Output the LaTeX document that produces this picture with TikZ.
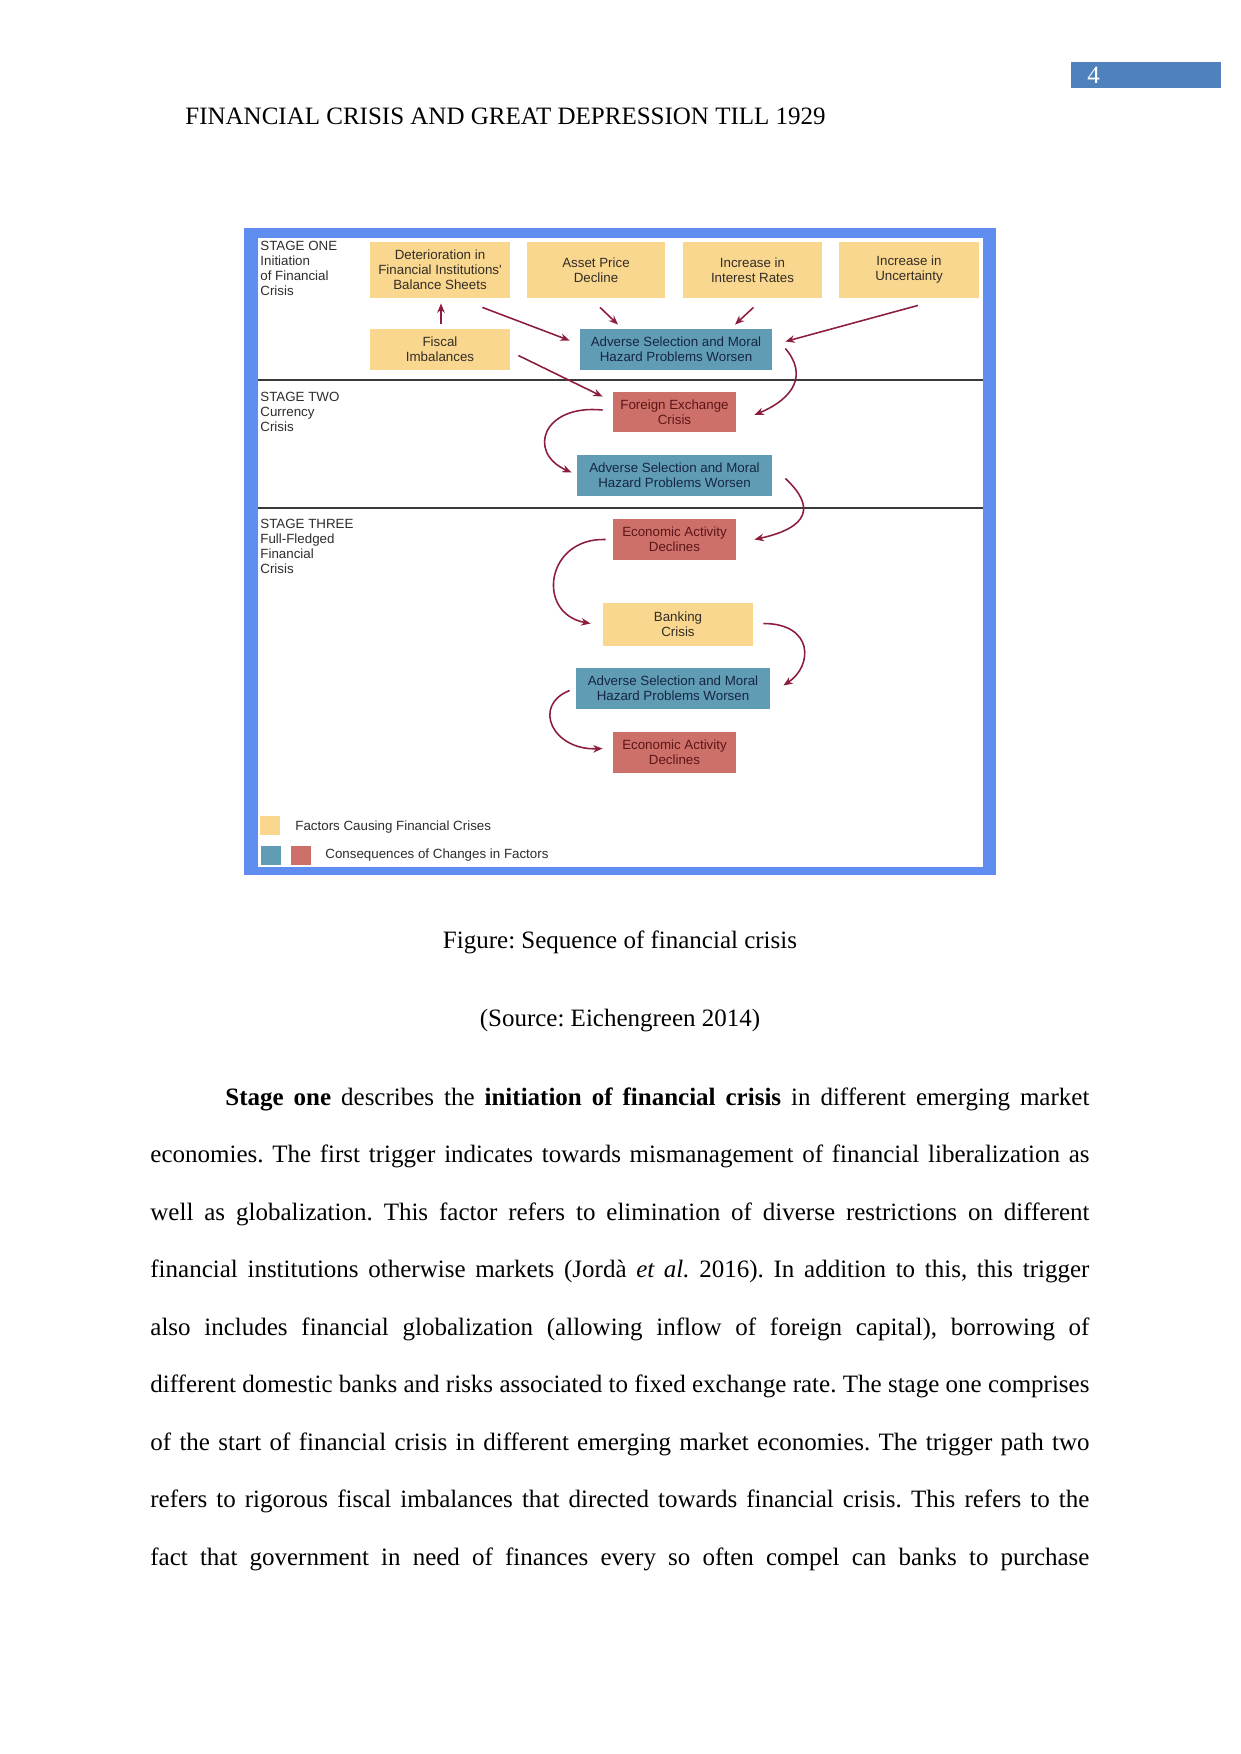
\documentclass[tikz,border=0pt]{standalone}
\usepackage{fontspec}
\setmainfont{Liberation Serif}
\newfontfamily\diagfont{Liberation Sans}
\usetikzlibrary{calc,arrows.meta}
\frenchspacing
\definecolor{frameblue}{RGB}{95,142,240}
\definecolor{pnblue}{RGB}{79,129,189}
\definecolor{boxyellow}{RGB}{250,215,142}
\definecolor{boxblue}{RGB}{96,157,181}
\definecolor{boxred}{RGB}{206,112,106}
\definecolor{ytext}{RGB}{50,45,40}
\definecolor{btext}{RGB}{22,38,66}
\definecolor{rtext}{RGB}{92,22,22}
\definecolor{arrowred}{RGB}{140,30,60}
\definecolor{sepgray}{RGB}{58,58,58}
\definecolor{lbltext}{RGB}{45,45,45}
\begin{document}
\frenchspacing
\begin{tikzpicture}[x=0.48pt,y=-0.48pt,
  box/.style={rectangle, inner sep=0pt, align=center,
    font=\diagfont\fontsize{6.4}{7.2}\selectfont},
  sz/.style 2 args={minimum width=#1*0.48pt, minimum height=#2*0.48pt},
  ybox/.style={box, fill=boxyellow, text=ytext},
  bbox/.style={box, fill=boxblue, text=btext},
  rbox/.style={box, fill=boxred, text=rtext},
  stagelbl/.style={inner sep=0pt, align=left, anchor=north west, text=lbltext,
    font=\diagfont\fontsize{6.4}{7.2}\selectfont},
  legsq/.style={rectangle, inner sep=0pt, minimum width=20*0.48pt, minimum height=19*0.48pt},
  legtext/.style={inner sep=0pt, anchor=base west, text=lbltext,
    font=\diagfont\fontsize{6.4}{7.2}\selectfont},
  arr/.style={draw=arrowred, line width=0.75pt, -{Stealth[length=4.5pt,width=3.6pt]}},
  sepline/.style={draw=sepgray, line width=1.2pt},
  pagetext/.style={inner sep=0pt, font=\fontsize{12}{14}\selectfont\frenchspacing},
  bodyline/.style={pagetext, anchor=base west}
]
\fill[white] (0,0) rectangle (1241,1754);
\useasboundingbox (0,0) rectangle (1241,1754);

% header
\node[pagetext, fill=pnblue, sz={150}{26}] (pnbox) at (1146,75) {};
\node[pagetext, anchor=base west, text=white] (pn) at (1087,83) {4};
\node[pagetext, anchor=base west] (hdr) at (185,124) {FINANCIAL CRISIS AND GREAT DEPRESSION TILL 1929};

% diagram frame
\fill[frameblue] (244,228) rectangle (996,875);
\fill[white] (258,238) rectangle (983,867);
\draw[sepline] (258,380) -- (983,380);
\draw[sepline] (258,508) -- (983,508);

% stage labels
\node[stagelbl] (s1) at (260,240.5) {STAGE ONE\\Initiation\\of Financial\\Crisis};
\node[stagelbl] (s2) at (260,391.5) {STAGE TWO\\Currency\\Crisis};
\node[stagelbl] (s3) at (260,519) {STAGE THREE\\Full-Fledged\\Financial\\Crisis};

% boxes
\node[ybox, sz={140}{56}] (det) at (440,270) {Deterioration in\\Financial Institutions'\\Balance Sheets};
\node[ybox, sz={138}{56}] (asset) at (596,270) {Asset Price\\Decline};
\node[ybox, sz={139}{56}] (interest) at (752.5,270) {Increase in\\Interest Rates};
\node[ybox, sz={140}{56}] (uncert) at (909,270) {Increase in\\Uncertainty};
\node[ybox, sz={140}{41}] (fiscal) at (440,349.5) {Fiscal\\Imbalances};
\node[bbox, sz={192}{41}] (adv1) at (676,349.5) {Adverse Selection and Moral\\Hazard Problems Worsen};
\node[rbox, sz={123}{40}] (fx) at (674.5,412) {Foreign Exchange\\Crisis};
\node[bbox, sz={195}{41}] (adv2) at (674.5,475.5) {Adverse Selection and Moral\\Hazard Problems Worsen};
\node[rbox, sz={123}{41}] (eco1) at (674.5,539.5) {Economic Activity\\Declines};
\node[ybox, sz={150}{43}] (bank) at (678,624.5) {Banking\\Crisis};
\node[bbox, sz={194}{41}] (adv3) at (673,688.5) {Adverse Selection and Moral\\Hazard Problems Worsen};
\node[rbox, sz={123}{41}] (eco2) at (674.5,752.5) {Economic Activity\\Declines};

% straight arrows
\draw[arr] ($(fiscal.north)+(1,-5)$) -- ($(det.south)+(1,5)$);
\draw[arr] ($(det.south east)+(-28,9)$) -- ($(adv1.west)+(-10,-9)$);
\draw[arr] ($(asset.south)+(4,9)$) -- ($(adv1.north)+(-58,-4)$);
\draw[arr] ($(interest.south)+(1,9)$) -- ($(adv1.north)+(59,-4)$);
\draw[arr] ($(uncert.south)+(9,7)$) -- ($(adv1.east)+(13,-8)$);
\draw[arr] ($(fiscal.east)+(8,6)$) -- ($(fx.north west)+(-10,5)$);

% curved arrows
\draw[arr] ($(adv1.east)+(13,-1)$) .. controls +(22,26) and +(40,-17) .. ($(fx.east)+(18,3)$);
\draw[arr] ($(fx.west)+(-10,-2)$) .. controls +(-60,-6) and +(-45,-20) .. ($(adv2.west)+(-5,-3)$);
\draw[arr] ($(adv2.east)+(13,3)$) .. controls +(30,28) and +(55,-12) .. ($(eco1.east)+(18,0)$);
\draw[arr] ($(eco1.west)+(-7,0)$) .. controls +(-60,-2) and +(-55,-10) .. ($(bank.west)+(-12,-1)$);
\draw[arr] ($(bank.east)+(10,-1)$) .. controls +(50,0) and +(30,-20) .. ($(adv3.east)+(13,-3)$);
\draw[arr] ($(adv3.west)+(-6,2)$) .. controls +(-38,15) and +(-50,2) .. ($(eco2.west)+(-10,-4)$);

% legend
\node[legsq, fill=boxyellow] (ly) at (270,825) {};
\node[legsq, fill=boxblue] (lb) at (271,855) {};
\node[legsq, fill=boxred] (lr) at (301,855) {};
\node[legtext] (lt1) at (295,830) {Factors Causing Financial Crises};
\node[legtext] (lt2) at (325,858) {Consequences of Changes in Factors};

% caption
\node[pagetext, anchor=base] (cap) at (620,948) {Figure: Sequence of financial crisis};
\node[pagetext, anchor=base] (src) at (620,1026) {(Source: Eichengreen 2014)};

% body text
\node[bodyline] (l1) at (225,1105) {\makebox[414.72pt][s]{\textbf{Stage one} describes the \textbf{initiation of financial crisis} in different emerging market}};
\node[bodyline] (l2) at (150,1162.5) {\makebox[450.72pt][s]{economies. The first trigger indicates towards mismanagement of financial liberalization as}};
\node[bodyline] (l3) at (150,1220) {\makebox[450.72pt][s]{well as globalization. This factor refers to elimination of diverse restrictions on different}};
\node[bodyline] (l4) at (150,1277.5) {\makebox[450.72pt][s]{financial institutions otherwise markets (Jordà \textit{et al.} 2016). In addition to this, this trigger}};
\node[bodyline] (l5) at (150,1335) {\makebox[450.72pt][s]{also includes financial globalization (allowing inflow of foreign capital), borrowing of}};
\node[bodyline] (l6) at (150,1392.5) {\makebox[450.72pt][s]{different domestic banks and risks associated to fixed exchange rate. The stage one comprises}};
\node[bodyline] (l7) at (150,1450) {\makebox[450.72pt][s]{of the start of financial crisis in different emerging market economies. The trigger path two}};
\node[bodyline] (l8) at (150,1507.5) {\makebox[450.72pt][s]{refers to rigorous fiscal imbalances that directed towards financial crisis. This refers to the}};
\node[bodyline] (l9) at (150,1565) {\makebox[450.72pt][s]{fact that government in need of finances every so often compel can banks to purchase}};
\end{tikzpicture}
\end{document}
